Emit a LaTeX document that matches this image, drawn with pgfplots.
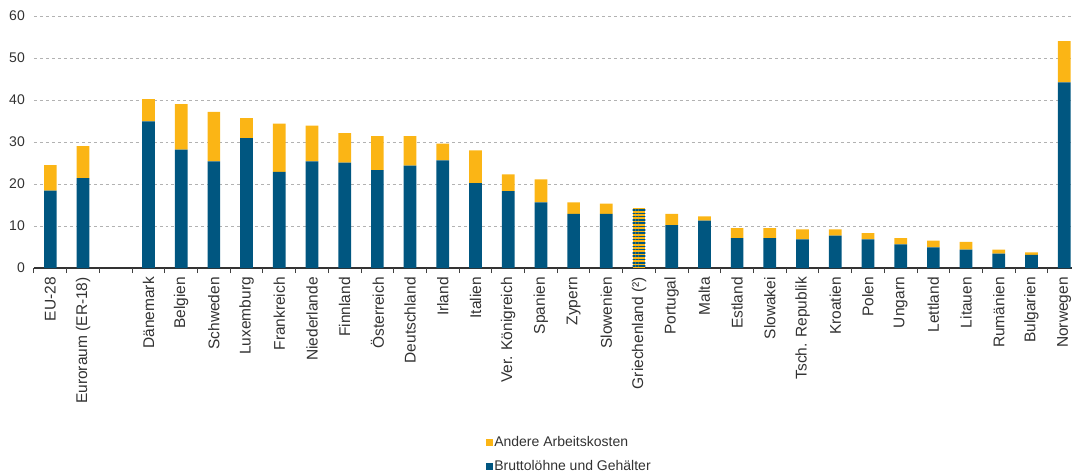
\documentclass[border=0pt]{standalone}
\usepackage{fontspec}
\setmainfont{Liberation Sans}
\usepackage{pgfplots}
\pgfplotsset{compat=1.18}
\usetikzlibrary{patterns.meta}
\definecolor{blu}{RGB}{0,86,128}
\definecolor{yel}{RGB}{251,181,21}
\definecolor{txt}{RGB}{50,50,50}
\begin{document}
\begin{tikzpicture}
\useasboundingbox (-34bp,-206bp) rectangle (1038bp,268bp);
\begin{axis}[
  at={(0,0)}, anchor=south west,
  scale only axis, width=1038bp, height=252bp,
  ybar stacked, bar width=12.7bp,
  xmin=-0.5, xmax=31.24, ymin=0, ymax=60,
  ytick={0,10,...,60},
  xtick={0,...,31},
  xticklabels={EU-28,Euroraum (ER-18),{},Dänemark,Belgien,Schweden,Luxemburg,Frankreich,Niederlande,Finnland,Österreich,Deutschland,Irland,Italien,Ver. Königreich,Spanien,Zypern,Slowenien,Griechenland (²),Portugal,Malta,Estland,Slowakei,Tsch. Republik,Kroatien,Polen,Ungarn,Lettland,Litauen,Rumänien,Bulgarien,Norwegen},
  xticklabel style={rotate=90, anchor=east, inner sep=0pt, font=\fontsize{15.5bp}{17bp}\selectfont, text=txt},
  xticklabel shift=9bp,
  yticklabel style={inner sep=0pt, font=\fontsize{14bp}{16bp}\selectfont, text=txt},
  yticklabel shift=9bp,
  /pgf/number format/assume math mode=true,
  xtick style={draw=none}, ytick style={draw=none},
  extra x ticks={-0.5,0.5,...,30.5},
  extra x tick labels={},
  extra x tick style={xtick style={draw=black!75, line width=1bp}, major tick length=5bp, tick align=outside},
  axis x line*=bottom, axis y line*=left,
  x axis line style={draw=black!80, line width=1.2bp},
  y axis line style={draw=none},
  ymajorgrids, grid style={dashed, black!30, line width=0.7bp},
  reverse legend,
  legend style={at={(axis description cs:0.4355,-0.661)}, anchor=north west, draw=none, fill=none,
    font=\fontsize{14bp}{16bp}\selectfont, text=txt, inner sep=0pt,
    row sep=8bp, cells={anchor=west}, /tikz/every even column/.append style={column sep=0pt}},
  legend image code/.code={\fill[#1] (0bp,-3.5bp) rectangle (7bp,3.5bp);},
  legend cell align=left,
]
\addplot[fill=blu, draw=none] coordinates {
(0,18.4) (1,21.4) (2,0) (3,34.9) (4,28.2) (5,25.4) (6,30.9) (7,22.9) (8,25.4) (9,25.1)
(10,23.3) (11,24.4) (12,25.6) (13,20.2) (14,18.3) (15,15.6) (16,12.9) (17,12.9) (18,0) (19,10.2)
(20,11.3) (21,7.1) (22,7.1) (23,6.8) (24,7.7) (25,6.8) (26,5.6) (27,4.9) (28,4.4) (29,3.4)
(30,3.1) (31,44.2)};
\addlegendentry[inner xsep=1bp]{Bruttolöhne und Gehälter}
\addplot[fill=yel, draw=none] coordinates {
(0,6.1) (1,7.6) (2,0) (3,5.3) (4,10.8) (5,11.8) (6,4.8) (7,11.5) (8,8.5) (9,7.0)
(10,8.1) (11,7.0) (12,4.0) (13,7.8) (14,4.0) (15,5.5) (16,2.7) (17,2.4) (18,0) (19,2.7)
(20,1.0) (21,2.4) (22,2.4) (23,2.4) (24,1.5) (25,1.5) (26,1.5) (27,1.6) (28,1.8) (29,1.0)
(30,0.6) (31,9.8)};
\addlegendentry[inner xsep=1bp]{Andere Arbeitskosten}
\addplot[fill=yel, draw=none, forget plot,
  postaction={pattern={Lines[angle=0, distance=3.3bp, line width=1.5bp]}, pattern color=blu}] coordinates {
(0,0) (1,0) (2,0) (3,0) (4,0) (5,0) (6,0) (7,0) (8,0) (9,0)
(10,0) (11,0) (12,0) (13,0) (14,0) (15,0) (16,0) (17,0) (18,14.4) (19,0)
(20,0) (21,0) (22,0) (23,0) (24,0) (25,0) (26,0) (27,0) (28,0) (29,0)
(30,0) (31,0)};
\end{axis}
\end{tikzpicture}
\end{document}
